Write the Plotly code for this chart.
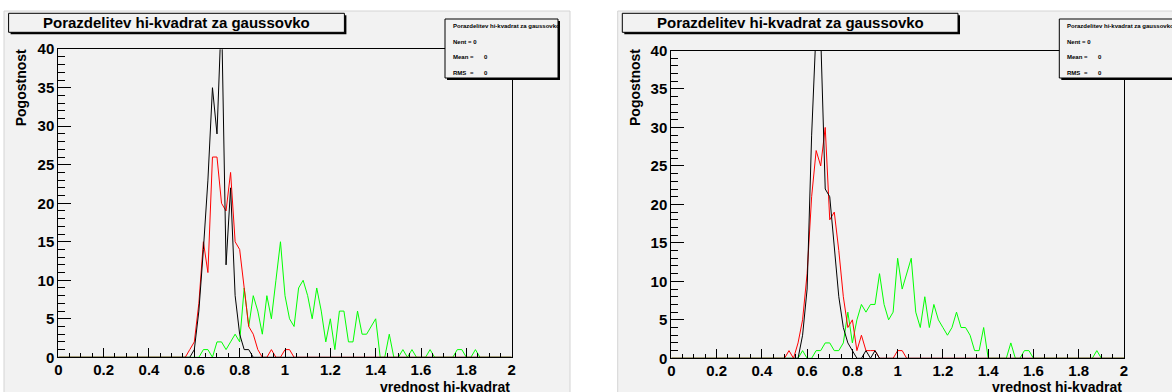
import plotly.graph_objects as go

W, H = 1172, 392

# ---------------- data ----------------
bin_width = 0.02
n_points = 101  # x = 0.00, 0.02, ..., 2.00
x_values = [round(i * bin_width, 2) for i in range(n_points)]

def series(nonzero):
    v = [0] * n_points
    for i, c in nonzero.items():
        v[i] = c
    return v

# counts keyed by bin index (x = index * 0.02)
left_black = series({30: 1, 31: 6, 32: 14, 33: 23, 34: 35, 35: 29, 36: 45, 37: 12, 38: 22,
                     39: 8, 40: 3, 41: 1, 42: 1})
left_red = series({29: 1, 30: 2, 31: 7, 32: 15, 33: 11, 34: 26, 35: 26, 36: 20, 37: 19, 38: 24,
                   39: 15, 40: 14, 41: 9, 42: 4, 43: 3, 44: 1, 47: 1, 50: 1, 51: 1})
left_green = series({32: 1, 33: 1, 35: 2, 36: 2, 37: 1, 38: 2, 39: 3, 40: 2, 41: 9, 42: 4,
                     43: 8, 44: 6, 45: 3, 46: 8, 47: 5, 48: 10, 49: 15, 50: 8, 51: 5, 52: 4,
                     53: 9, 54: 10, 55: 8, 56: 5, 57: 9, 58: 6, 59: 2, 60: 5, 61: 1, 62: 6,
                     63: 6, 64: 2, 65: 2, 66: 6, 67: 3, 68: 3, 69: 4, 70: 5, 73: 3, 76: 1,
                     78: 1, 82: 1, 88: 1, 89: 1, 92: 1})
right_black = series({29: 3, 30: 9, 31: 29, 32: 43, 33: 42, 34: 22, 35: 21, 36: 14, 37: 8,
                      38: 4, 39: 2, 40: 1, 43: 1, 45: 1})
right_red = series({26: 1, 28: 2, 29: 5, 30: 11, 31: 21, 32: 27, 33: 25, 34: 30, 35: 18,
                    36: 19, 37: 14, 38: 8, 39: 4, 40: 5, 41: 1, 42: 3, 43: 1, 44: 1, 45: 1,
                    50: 1, 51: 1})
right_green = series({29: 1, 32: 1, 33: 1, 34: 2, 35: 2, 36: 1, 37: 1, 38: 2, 39: 6, 40: 2,
                      41: 5, 42: 7, 43: 6, 44: 7, 45: 7, 46: 11, 47: 7, 48: 5, 49: 6, 50: 13,
                      51: 9, 52: 11, 53: 13, 54: 6, 55: 4, 56: 8, 57: 4, 58: 7, 59: 5, 60: 4,
                      61: 3, 62: 4, 63: 6, 64: 4, 65: 4, 66: 3, 67: 1, 68: 1, 69: 4, 75: 2,
                      78: 1, 79: 1, 94: 1})

x_tick_vals = [0, 0.2, 0.4, 0.6, 0.8, 1.0, 1.2, 1.4, 1.6, 1.8, 2.0]
x_tick_text = ["0", "0.2", "0.4", "0.6", "0.8", "1", "1.2", "1.4", "1.6", "1.8", "2"]
y_tick_vals = [0, 5, 10, 15, 20, 25, 30, 35, 40]
y_tick_text = ["0", "5", "10", "15", "20", "25", "30", "35", "40"]

title_text = "Porazdelitev hi-kvadrat za gaussovko"
x_title = "vrednost hi-kvadrat"
y_title = "Pogostnost"
stats_lines = ["Nent = 0", "Mean", "RMS"]
stats_values = ["0", "0"]

# ---------------- layout helpers ----------------
def px(x):
    return x / W

def py(y):
    return 1 - y / H

FONT = "Liberation Sans, Arial, Helvetica, sans-serif"
CANVAS = "#f2f2f2"

panels = [
    dict(series=(left_green, left_red, left_black), xa="x", ya="y",
         canvas=(4, 11, 570, 410), frame=(58.3, 49.2, 511.7, 357.3),
         tbox=(8.6, 13.3, 344.4, 32.3), sbox=(445, 19, 558, 78)),
    dict(series=(right_green, right_red, right_black), xa="x2", ya="y2",
         canvas=(617.7, 11, 1200, 410), frame=(671.3, 50.5, 1124, 358.3),
         tbox=(622.3, 13.3, 958, 32.3), sbox=(1059.3, 19, 1180, 78)),
]

fig = go.Figure()
shapes = []
annotations = []
colors = ["#00ff00", "#ff0000", "#000000"]

for k, p in enumerate(panels):
    for vals, col in zip(p["series"], colors):
        fig.add_trace(go.Scatter(x=x_values, y=vals, mode="lines", xaxis=p["xa"], yaxis=p["ya"],
                                 line=dict(color=col, width=1), hoverinfo="skip", showlegend=False))
    cx0, cy0, cx1, cy1 = p["canvas"]
    shapes.append(dict(type="rect", xref="paper", yref="paper", layer="below",
                       x0=px(cx0), x1=px(cx1), y0=py(cy1), y1=py(cy0),
                       fillcolor=CANVAS, line=dict(color="#d4d4d4", width=1)))
    # title box with shadow
    tx0, ty0, tx1, ty1 = p["tbox"]
    shapes.append(dict(type="rect", xref="paper", yref="paper", layer="above",
                       x0=px(tx0 + 2), x1=px(tx1 + 2), y0=py(ty1 + 2), y1=py(ty0 + 2),
                       fillcolor="#000000", line=dict(width=0)))
    shapes.append(dict(type="rect", xref="paper", yref="paper", layer="above",
                       x0=px(tx0), x1=px(tx1), y0=py(ty1), y1=py(ty0),
                       fillcolor=CANVAS, line=dict(color="#000000", width=1)))
    annotations.append(dict(text=title_text, xref="paper", yref="paper",
                            x=px((tx0 + tx1) / 2), y=py((ty0 + ty1) / 2), showarrow=False,
                            xanchor="center", yanchor="middle",
                            font=dict(family=FONT, size=15, color="#000", weight="bold")))
    # stats box with shadow
    sx0, sy0, sx1, sy1 = p["sbox"]
    shapes.append(dict(type="rect", xref="paper", yref="paper", layer="above",
                       x0=px(sx0 + 2), x1=px(sx1 + 2), y0=py(sy1 + 2), y1=py(sy0 + 2),
                       fillcolor="#000000", line=dict(width=0)))
    shapes.append(dict(type="rect", xref="paper", yref="paper", layer="above",
                       x0=px(sx0), x1=px(sx1), y0=py(sy1), y1=py(sy0),
                       fillcolor=CANVAS, line=dict(color="#000000", width=1)))
    sfont = dict(family=FONT, size=6, color="#000", weight="bold")
    rows = [(title_text, 25.7), (stats_lines[0], 41.7), (stats_lines[1], 57.0), (stats_lines[2], 72.7)]
    for txt, yy in rows:
        annotations.append(dict(text=txt, xref="paper", yref="paper", x=px(sx0 + 6), y=py(yy),
                                showarrow=False, xanchor="left", yanchor="middle", font=sfont))
    for yy, val in zip((57.0, 72.7), stats_values):
        annotations.append(dict(text="=", xref="paper", yref="paper", x=px(sx0 + 27), y=py(yy),
                                showarrow=False, xanchor="center", yanchor="middle", font=sfont))
        annotations.append(dict(text=val, xref="paper", yref="paper", x=px(sx0 + 41), y=py(yy),
                                showarrow=False, xanchor="center", yanchor="middle", font=sfont))
    fx0, fy0, fx1, fy1 = p["frame"]
    # axis titles
    annotations.append(dict(text=x_title, xref="paper", yref="paper", x=px(fx1), y=py(376.5),
                            showarrow=False, xanchor="right", yanchor="top",
                            font=dict(family=FONT, size=14, color="#000", weight="bold")))
    annotations.append(dict(text=y_title, xref="paper", yref="paper", x=px(cx0 + 17.3), y=py(88),
                            showarrow=False, xanchor="center", yanchor="middle", textangle=-90,
                            font=dict(family=FONT, size=14, color="#000", weight="bold")))

    xsuffix = "" if k == 0 else "2"
    tickfont = dict(family=FONT, size=15, color="#000", weight="bold")
    fig.layout["xaxis" + xsuffix] = dict(
        domain=[px(fx0), px(fx1)], range=[0, 2], anchor="y" + xsuffix, automargin=False,
        tickmode="array", tickvals=x_tick_vals, ticktext=x_tick_text,
        ticks="inside", ticklen=9, tickwidth=1, tickcolor="#000",
        minor=dict(tick0=0, dtick=0.05, ticks="inside", ticklen=4, tickwidth=1, tickcolor="#000"),
        showline=True, linecolor="#000", linewidth=1, mirror=True,
        showgrid=False, zeroline=False, tickfont=tickfont, ticklabelstandoff=-1,
        fixedrange=True)
    fig.layout["yaxis" + xsuffix] = dict(
        domain=[py(fy1), py(fy0)], range=[0, 40], anchor="x" + xsuffix, automargin=False,
        tickmode="array", tickvals=y_tick_vals, ticktext=y_tick_text,
        ticks="inside", ticklen=13, tickwidth=1, tickcolor="#000",
        minor=dict(tick0=0, dtick=1, ticks="inside", ticklen=7, tickwidth=1, tickcolor="#000"),
        showline=True, linecolor="#000", linewidth=1, mirror=True,
        showgrid=False, zeroline=False, tickfont=tickfont, ticklabelstandoff=0,
        fixedrange=True)

fig.update_layout(width=W, height=H, margin=dict(l=0, r=0, t=0, b=0, autoexpand=False),
                  paper_bgcolor="#ffffff", plot_bgcolor="rgba(0,0,0,0)",
                  shapes=shapes, annotations=annotations, showlegend=False)

fig.write_html("out.html", config={"displayModeBar": False},
               post_script="document.body.style.margin='0px';document.body.style.overflow='hidden';")
